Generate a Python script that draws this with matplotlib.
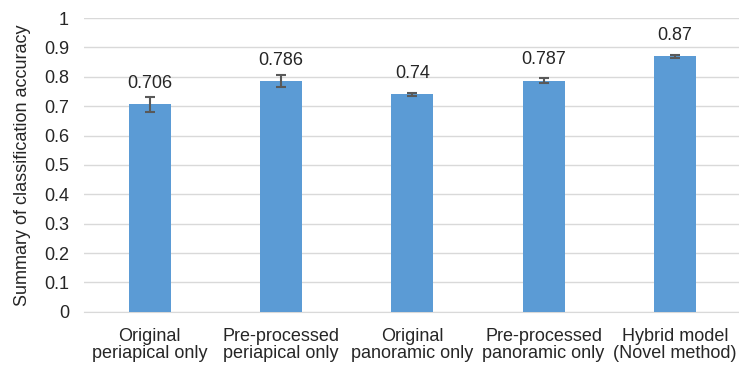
import matplotlib
matplotlib.use('Agg')
import matplotlib.pyplot as plt
import numpy as np

plt.rcParams['font.family'] = ['Liberation Sans', 'DejaVu Sans']

# ===== data =====
categories = ['Original\nperiapical only', 'Pre-processed\nperiapical only',
              'Original\npanoramic only', 'Pre-processed\npanoramic only',
              'Hybrid model\n(Novel method)']
accuracy = [0.706, 0.786, 0.74, 0.787, 0.87]
errors = [0.026, 0.02, 0.006, 0.008, 0.006]
value_labels = ['0.706', '0.786', '0.74', '0.787', '0.87']
yticks = [0, 0.1, 0.2, 0.3, 0.4, 0.5, 0.6, 0.7, 0.8, 0.9, 1]
ytick_labels = ['0', '0.1', '0.2', '0.3', '0.4', '0.5', '0.6', '0.7', '0.8', '0.9', '1']

fig = plt.figure(figsize=(7.39, 3.69), dpi=100)
ax = fig.add_axes([0.114, 0.155, 0.888, 0.796])

x = np.arange(len(categories))
ax.bar(x, accuracy, width=0.32, color='#5B9BD5', zorder=3,
       yerr=errors, error_kw=dict(ecolor='#595959', elinewidth=1.5,
                                  capsize=3.5, capthick=1.5, zorder=4))

# value labels sit a fixed distance above the bar top
for xi, v, lab in zip(x, accuracy, value_labels):
    ax.text(xi, v + 0.042, lab, ha='center', va='bottom',
            fontsize=13, color='#262626')

ax.set_xlim(-0.5, len(categories) - 0.5)
ax.set_ylim(0, 1)
ax.set_yticks(yticks)
ax.set_yticklabels(ytick_labels, fontsize=13, color='#262626')
ax.set_xticks(x)
ax.set_xticklabels(categories, fontsize=13, color='#262626', linespacing=1.0)
ax.tick_params(axis='both', length=0)
ax.tick_params(axis='x', pad=12)
ax.tick_params(axis='y', pad=11)
ax.set_ylabel('Summary of classification accuracy', fontsize=13,
              color='#262626', labelpad=9)

ax.yaxis.grid(True, color='#D9D9D9', linewidth=1, zorder=0)
for s in ['top', 'right', 'left']:
    ax.spines[s].set_visible(False)
ax.spines['bottom'].set_color('#D9D9D9')
ax.spines['bottom'].set_zorder(1)

plt.savefig('out.png', dpi=100)
